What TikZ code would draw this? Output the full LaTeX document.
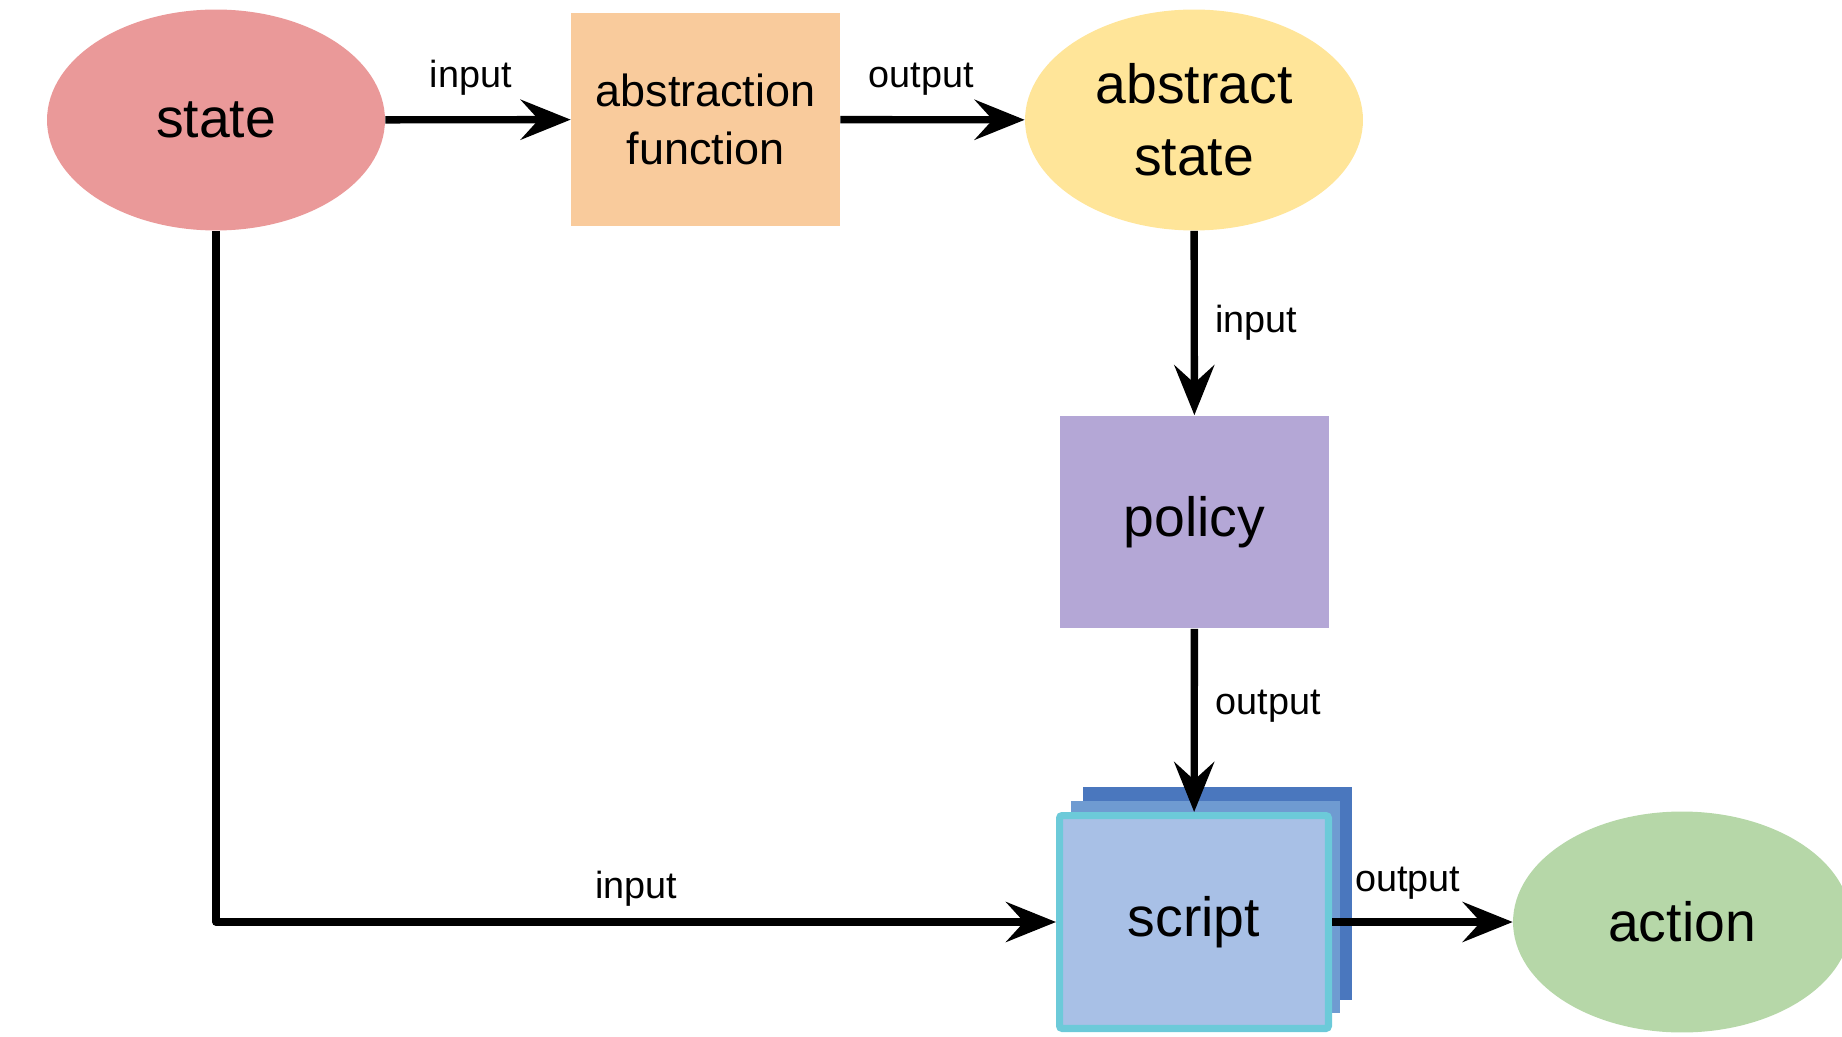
\documentclass[tikz,border=0pt]{standalone}
\usepackage{fontspec}
\setmainfont{Liberation Sans}
\usetikzlibrary{shapes.geometric,arrows.meta}
\definecolor{cState}{HTML}{EA9999}
\definecolor{cAbsFn}{HTML}{F9CB9C}
\definecolor{cAbsSt}{HTML}{FFE599}
\definecolor{cPolicy}{HTML}{B4A7D6}
\definecolor{cScript}{HTML}{A8C0E6}
\definecolor{cScriptRim}{HTML}{6CCAD9}
\definecolor{cSheetA}{HTML}{6F9BD1}
\definecolor{cSheetB}{HTML}{4A77BE}
\definecolor{cAction}{HTML}{B6D7A8}
\tikzset{
  bigfont/.style={font=\fontsize{31.5}{41}\selectfont},
  oval/.style={ellipse,bigfont,align=center,inner sep=0pt,
        minimum width=6.76cm,minimum height=4.42cm},
  blk/.style={rectangle,align=center,inner sep=0pt,
        minimum width=5.38cm,minimum height=4.26cm},
  sheet/.style={blk,draw=none},
  flow/.style={line width=4.2pt,line join=round,
        -{Stealth[length=1cm,width=0.8cm,inset=0.36cm]}},
  lbl/.style={font=\fontsize{21.5}{24}\selectfont,inner sep=0pt},
}
\begin{document}
\begin{tikzpicture}[x=0.02cm,y=-0.02cm]
\useasboundingbox (0,0) rectangle (1842,1037);
\node[oval,fill=cState]  (state)  at (216,120)  {state};
\node[blk,fill=cAbsFn,font=\fontsize{25.6}{33}\selectfont] (absfn) at (705.5,119.5) {abstraction\\function};
\node[oval,fill=cAbsSt]  (absst)  at (1194,120) {abstract\\state};
\node[blk,bigfont,fill=cPolicy] (policy) at (1194.5,522) {policy};
\node[sheet,fill=cSheetB] (sheetB) at (1217.5,893.5) {};
\node[sheet,fill=cSheetA] (sheetA) at (1205.5,907) {};
\node[blk,bigfont,fill=cScript,draw=cScriptRim,line width=4pt,rounded corners=1.5pt] (script) at (1194,922) {script};
\node[oval,fill=cAction] (action) at (1682,922) {action};
\draw[flow] (state) -- node[lbl,pos=0.46,above=12pt] {input} (absfn);
\draw[flow] (absfn) -- node[lbl,pos=0.44,above=12pt] {output} (absst);
\draw[flow] (absst) -- node[lbl,midway,right=10pt] {input} (policy);
\draw[flow] (policy) -- node[lbl,pos=0.42,right=10pt] {output} (script);
\draw[flow] (state.south) |- node[lbl,pos=0.75,above=7pt] {input} (script.west);
\draw[flow] (script) -- node[lbl,pos=0.42,above=11pt] {output} (action);
\end{tikzpicture}
\end{document}
